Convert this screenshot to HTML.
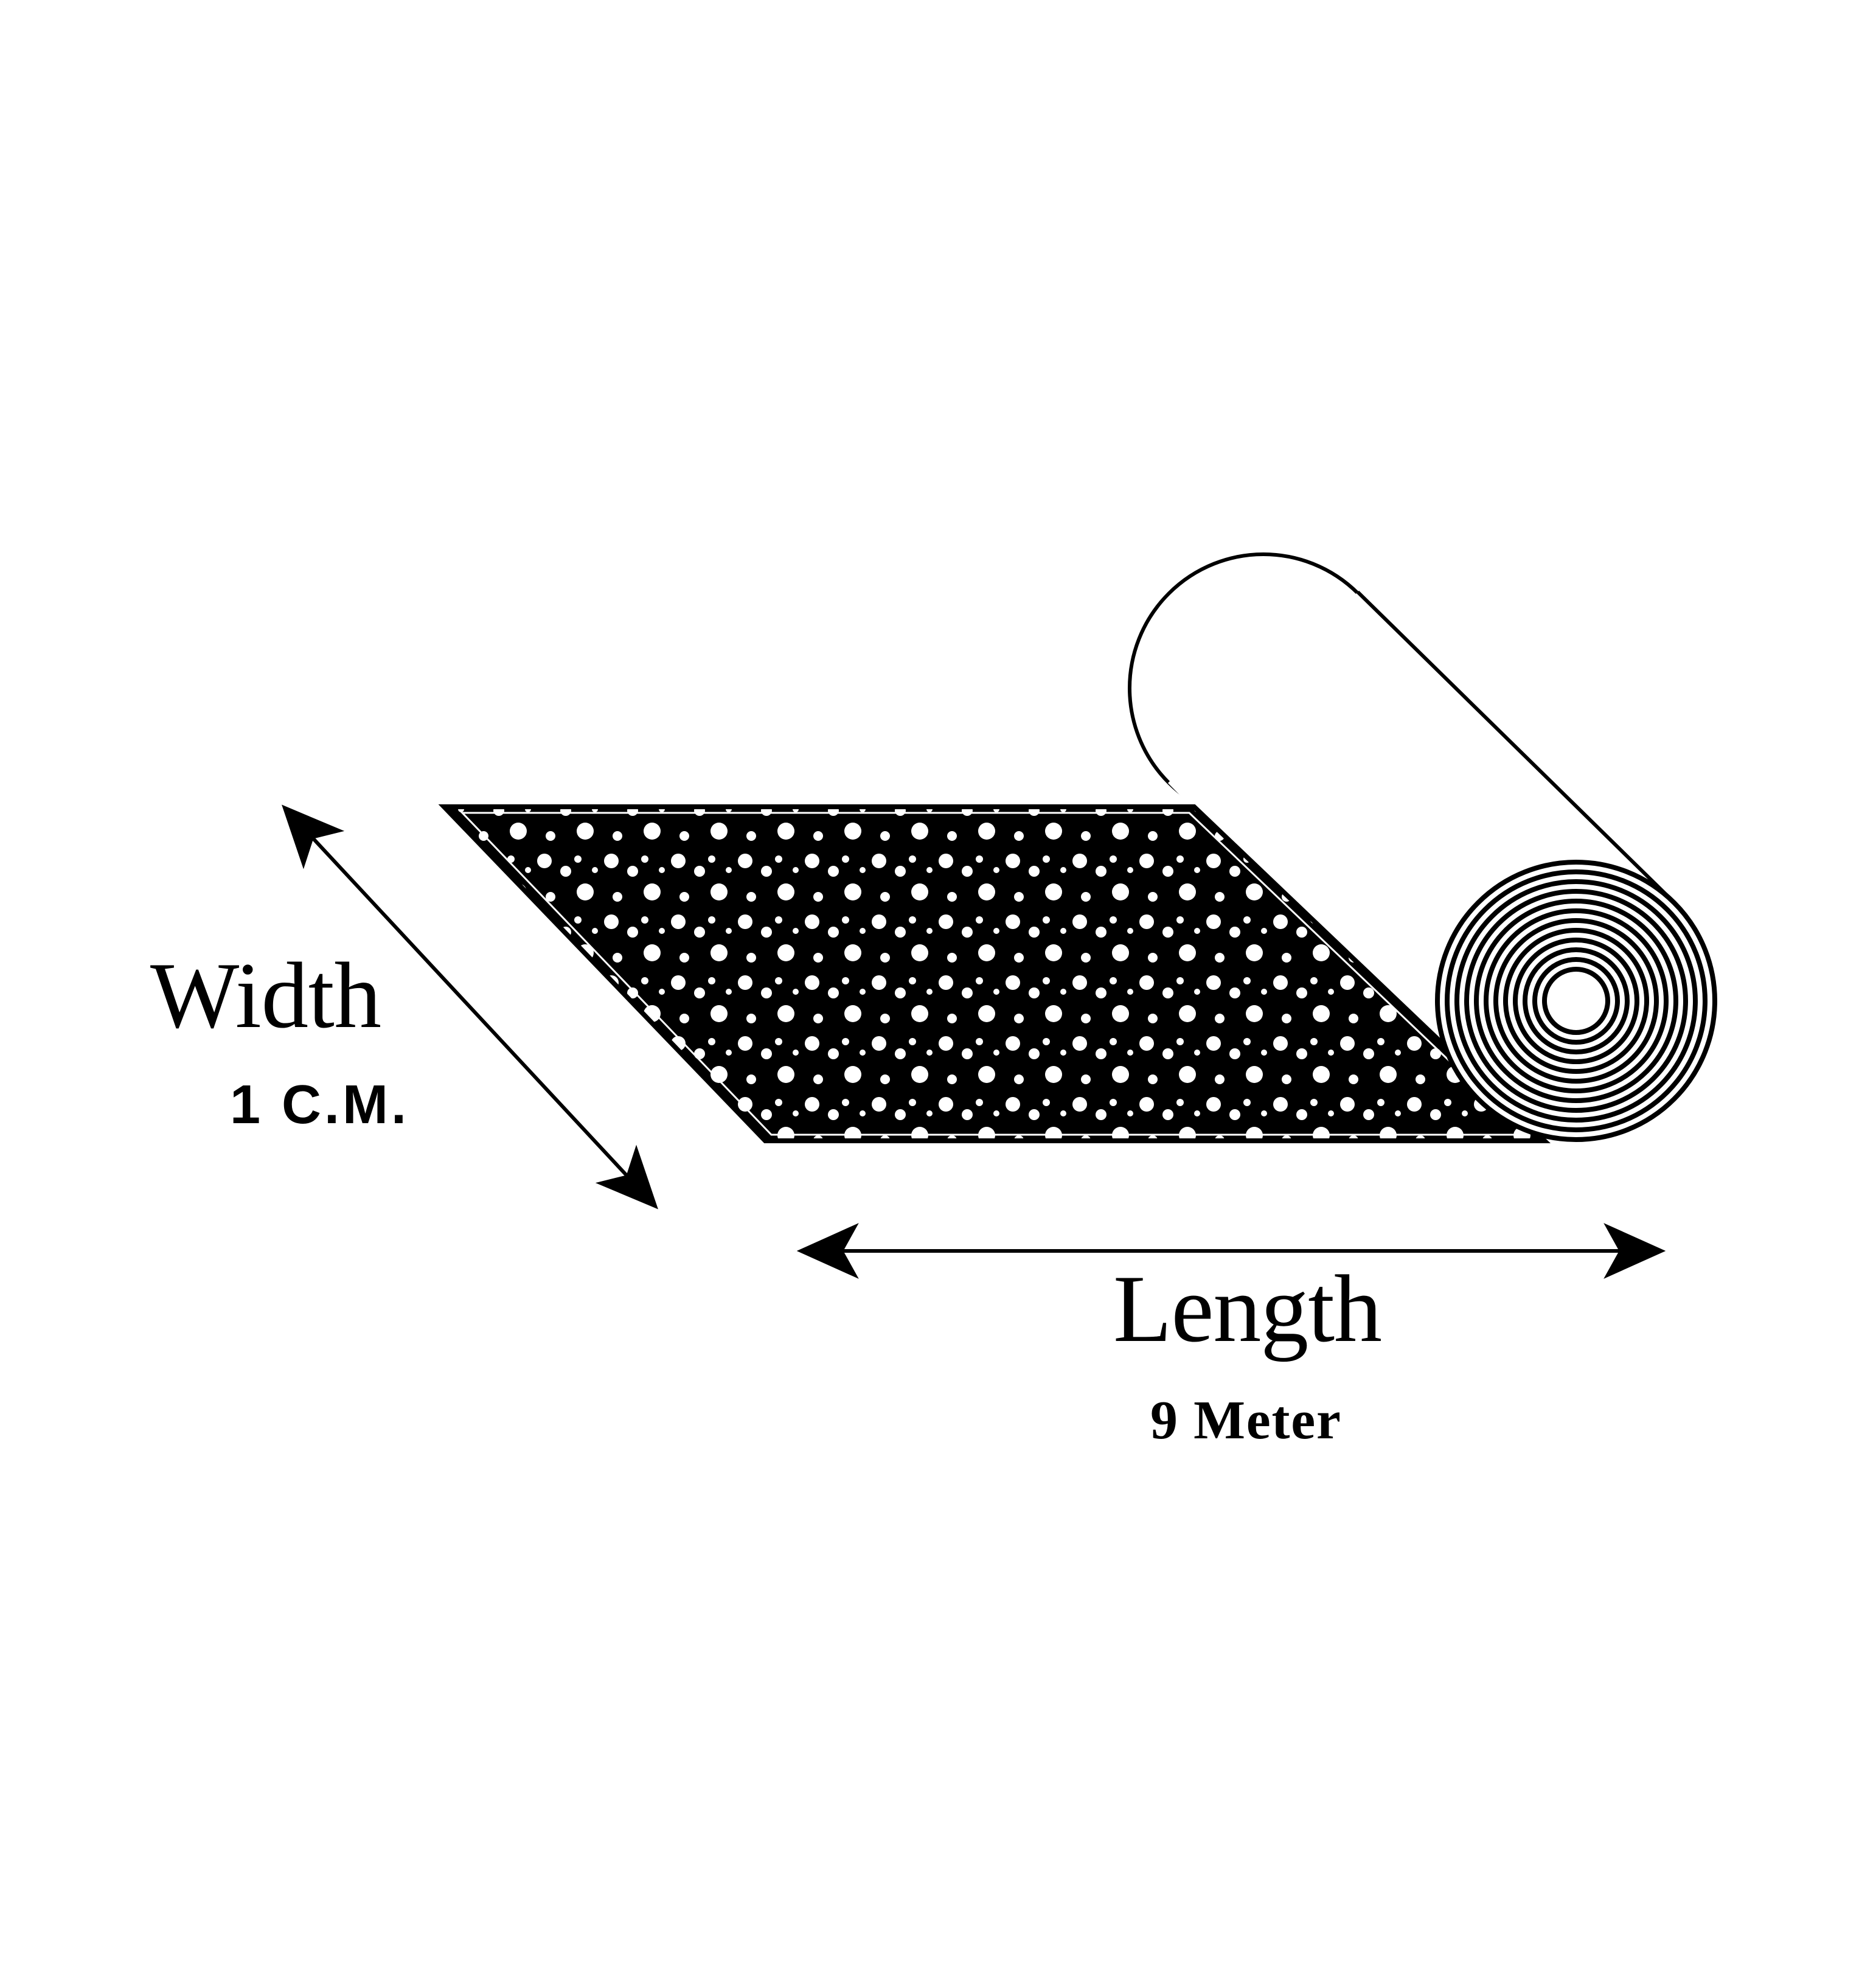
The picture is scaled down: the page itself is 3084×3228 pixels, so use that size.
<!DOCTYPE html>
<html><head><meta charset="utf-8">
<style>
html,body{margin:0;padding:0;background:#fff;}
svg{display:block;}
</style></head>
<body>
<svg width="3084" height="3228" viewBox="0 0 3084 3228" xmlns="http://www.w3.org/2000/svg">
<defs>
  <pattern id="pat" width="110" height="100" patternUnits="userSpaceOnUse">
    <rect width="110" height="100" fill="#000"/>
    <circle cx="15" cy="15" r="12" fill="#fff"/>
    <circle cx="50" cy="32" r="9" fill="#fff"/>
    <circle cx="82" cy="66" r="14" fill="#fff"/>
    <circle cx="25" cy="74" r="8" fill="#fff"/>
    <circle cx="70" cy="12" r="6" fill="#fff"/>
    <circle cx="98" cy="30" r="5" fill="#fff"/>
  </pattern>
  <marker id="ah" viewBox="0 0 10 10" refX="9" refY="5" markerWidth="17" markerHeight="17" orient="auto-start-reverse" markerUnits="strokeWidth">
    <path d="M0,0.5 L10,5 L0,9.5 L2.5,5 z" fill="#000"/>
  </marker>
</defs>
<rect width="3084" height="3228" fill="#fff"/>

<g>
  <circle cx="2077" cy="1131" r="220" fill="#fff" stroke="#000" stroke-width="6"/>
  <polygon points="2232,973 2752,1483 2430,1805 1920,1287" fill="#fff" stroke="none"/>
  <line x1="2232" y1="973" x2="2752" y2="1483" stroke="#000" stroke-width="6"/>
</g>

<g>
  <polygon points="730,1326 1963,1326 2539,1875 1258,1875" fill="url(#pat)" stroke="#000" stroke-width="8"/>
  <polygon points="760,1336 1955,1336 2510,1865 1268,1865" fill="none" stroke="#fff" stroke-width="3"/>
</g>

<g>
  <circle cx="2591" cy="1645" r="228" fill="#fff" stroke="#000" stroke-width="8"/>
  <circle cx="2591" cy="1645" r="212" fill="none" stroke="#000" stroke-width="8"/>
  <circle cx="2591" cy="1645" r="196" fill="none" stroke="#000" stroke-width="8"/>
  <circle cx="2591" cy="1645" r="180" fill="none" stroke="#000" stroke-width="8"/>
  <circle cx="2591" cy="1645" r="164" fill="none" stroke="#000" stroke-width="8"/>
  <circle cx="2591" cy="1645" r="148" fill="none" stroke="#000" stroke-width="8"/>
  <circle cx="2591" cy="1645" r="132" fill="none" stroke="#000" stroke-width="8"/>
  <circle cx="2591" cy="1645" r="116" fill="none" stroke="#000" stroke-width="8"/>
  <circle cx="2591" cy="1645" r="100" fill="none" stroke="#000" stroke-width="8"/>
  <circle cx="2591" cy="1645" r="84" fill="none" stroke="#000" stroke-width="8"/>
  <circle cx="2591" cy="1645" r="68" fill="none" stroke="#000" stroke-width="8"/>
  <circle cx="2591" cy="1645" r="52" fill="#fff" stroke="#000" stroke-width="8"/>
</g>

<line x1="470" y1="1330" x2="1075" y2="1980" stroke="#000" stroke-width="6" marker-start="url(#ah)" marker-end="url(#ah)"/>
<line x1="1320" y1="2056" x2="2728" y2="2056" stroke="#000" stroke-width="6" marker-start="url(#ah)" marker-end="url(#ah)"/>

<text x="247" y="1688" font-family="Liberation Serif, serif" font-size="155" textLength="380" fill="#000">Width</text>
<text x="378" y="1846" font-family="Liberation Sans, sans-serif" font-weight="bold" font-size="90" textLength="290" fill="#000">1 C.M.</text>
<text x="1830" y="2204" font-family="Liberation Serif, serif" font-size="158" textLength="442" fill="#000">Length</text>
<text x="1891" y="2364" font-family="Liberation Serif, serif" font-weight="bold" font-size="90" textLength="313" fill="#000">9 Meter</text>
</svg>
</body></html>
